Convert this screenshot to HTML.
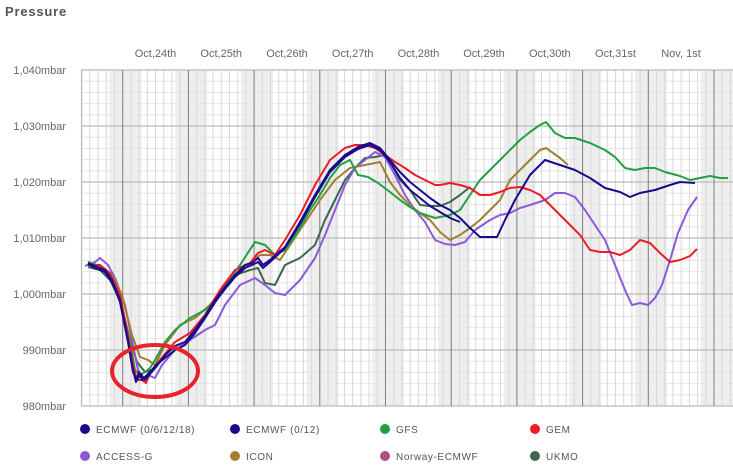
<!DOCTYPE html>
<html><head><meta charset="utf-8"><style>
body{margin:0;background:#fff;width:733px;height:466px;overflow:hidden;font-family:"Liberation Sans",sans-serif}
</style></head><body>
<svg width="733" height="466" xmlns="http://www.w3.org/2000/svg" font-family="Liberation Sans, sans-serif">
<text x="5" y="16" font-size="13" font-weight="bold" fill="#555" letter-spacing="0.8">Pressure</text>
<g id="bands" fill="#eeeeee">
<rect x="109.5" y="70" width="32" height="336"/><rect x="175.2" y="70" width="32" height="336"/><rect x="240.9" y="70" width="32" height="336"/><rect x="306.6" y="70" width="32" height="336"/><rect x="372.3" y="70" width="32" height="336"/><rect x="438" y="70" width="32" height="336"/><rect x="503.7" y="70" width="32" height="336"/><rect x="569.4" y="70" width="32" height="336"/><rect x="635.1" y="70" width="32" height="336"/><rect x="700.8" y="70" width="32" height="336"/>
</g>
<g stroke="#e6e6e6" stroke-width="1" id="hmin"></g>
<g stroke="#d8d8d8" stroke-width="1" id="vmin"></g>
<g stroke="#bbbbbb" stroke-width="1.2">
<line x1="81" y1="70" x2="733" y2="70"/><line x1="81" y1="126" x2="733" y2="126"/><line x1="81" y1="182" x2="733" y2="182"/><line x1="81" y1="238" x2="733" y2="238"/><line x1="81" y1="294" x2="733" y2="294"/><line x1="81" y1="350" x2="733" y2="350"/><line x1="81" y1="406" x2="733" y2="406"/>
<line x1="81.5" y1="70" x2="81.5" y2="406"/>
</g>
<g stroke="#808080" stroke-width="1" id="days"></g>
<g font-size="11" fill="#666" text-anchor="end">
<text x="66" y="74">1,040mbar</text><text x="66" y="130">1,030mbar</text><text x="66" y="186">1,020mbar</text><text x="66" y="242">1,010mbar</text><text x="66" y="298">1,000mbar</text><text x="66" y="354">990mbar</text><text x="66" y="410">980mbar</text>
</g>
<g font-size="11" fill="#666" text-anchor="middle">
<text x="155.5" y="57">Oct,24th</text><text x="221.2" y="57">Oct,25th</text><text x="287" y="57">Oct,26th</text><text x="352.7" y="57">Oct,27th</text><text x="418.4" y="57">Oct,28th</text><text x="484" y="57">Oct,29th</text><text x="549.8" y="57">Oct,30th</text><text x="615.5" y="57">Oct,31st</text><text x="681" y="57">Nov, 1st</text>
</g>
<g fill="none" stroke-width="2" stroke-linejoin="round">
<polyline stroke="#3d6650" points="88,267 100,270 110,280 120,300 130,340 137,362 145,372 152,370 162,360 175,350 190,340 205,318 220,295 235,275 250,270 258,268 265,283 275,285 285,265 300,258 315,245 325,220 335,200 345,180 355,168 365,158 375,157 385,155 392,165 400,180 410,190 420,205 430,206 440,206 450,202 460,195 470,187"/>
<polyline stroke="#8a5ad8" points="85,266 95,262 100,258 108,265 115,278 125,305 133,345 138,370 143,378 148,375 155,378 162,365 175,350 190,340 205,330 215,325 225,305 240,285 255,278 265,285 275,293 285,295 300,280 315,258 325,235 335,210 345,185 355,168 365,160 375,152 385,157 395,175 405,195 415,210 425,222 435,240 445,244 455,245 465,242 475,230 490,220 500,215 510,213 520,208 530,205 545,200 555,193 565,193 575,197 585,210 595,225 605,240 615,265 625,290 632,305 640,303 648,305 655,298 662,285 670,260 678,233 688,210 697,197"/>
<polyline stroke="#a08030" points="88,265 100,265 112,275 122,295 132,335 140,357 148,360 155,365 165,345 180,325 195,318 210,305 225,285 240,270 250,263 260,255 270,255 280,260 300,230 320,200 335,180 350,168 365,165 380,162 390,182 400,195 410,205 420,213 430,220 440,232 450,240 460,235 470,228 480,220 490,210 500,200 510,180 520,170 530,160 540,150 546,148 560,158 568,165"/>
<polyline stroke="#22a044" points="88,262 100,266 110,275 120,300 130,340 135,370 140,375 145,372 150,368 155,360 165,342 175,330 190,318 205,310 215,300 225,285 240,265 255,242 265,245 275,255 285,250 300,228 310,210 320,195 330,178 340,165 350,160 358,175 368,177 378,183 390,192 400,200 410,207 420,213 435,218 450,215 460,210 470,195 480,180 490,170 500,160 510,150 520,140 530,132 540,125 546,122 555,133 565,138 575,138 590,143 605,150 615,157 625,168 635,170 645,168 655,168 665,172 680,176 690,180 700,178 710,176 720,178 728,178"/>
<polyline stroke="#ee1c24" points="88,265 100,265 110,273 120,295 128,335 133,365 137,380 142,380 146,383 150,373 160,360 175,342 190,333 205,315 220,290 235,270 250,263 258,253 265,250 275,255 285,240 300,215 315,185 330,160 345,148 355,145 365,145 375,148 385,155 395,162 405,168 415,175 425,180 435,185 440,185 450,183 460,185 470,188 480,195 490,195 500,192 510,188 520,187 530,190 540,195 550,205 560,215 570,225 580,235 590,250 600,252 610,252 620,255 630,250 640,240 650,243 660,253 670,262 680,260 690,256 697,249"/>
<polyline stroke="#1a0a8c" points="88,263 95,266 105,270 112,280 120,300 128,340 133,370 136,382 139,372 142,380 146,376 150,372 156,365 165,358 175,350 185,345 195,333 205,318 215,302 225,289 235,277 245,268 252,265 258,262 263,268 270,262 285,248 300,224 315,197 330,172 345,157 358,149 370,145 380,150 390,162 400,178 410,190 420,198 430,206 440,212 450,218 460,222"/>
<polyline stroke="#1a0a8c" points="88,264 95,268 105,272 112,282 120,302 128,342 133,372 137,380 141,374 145,380 150,374 156,367 165,355 175,346 185,342 195,330 205,316 215,300 225,287 235,275 245,265 252,263 258,258 263,265 270,260 285,247 300,222 315,195 330,170 345,155 358,147 370,143 380,148 390,160 400,172 410,182 420,190 430,198 440,205 450,210 460,218 470,228 480,237 490,237 497,237 505,220 515,200 530,175 545,160 560,165 575,170 590,178 605,188 620,192 630,197 640,193 655,190 670,185 680,182 695,183"/>
</g>
<ellipse cx="155" cy="371" rx="43" ry="26" fill="none" stroke="#e8232a" stroke-width="4"/>
<g font-size="10" fill="#555" letter-spacing="0.6">
<circle cx="85" cy="429" r="5" fill="#1a0a8c"/><text x="96" y="433">ECMWF (0/6/12/18)</text>
<circle cx="235" cy="429" r="5" fill="#1a0a8c"/><text x="246" y="433">ECMWF (0/12)</text>
<circle cx="385" cy="429" r="5" fill="#22a044"/><text x="396" y="433">GFS</text>
<circle cx="535" cy="429" r="5" fill="#ee1c24"/><text x="546" y="433">GEM</text>
<circle cx="85" cy="456" r="5" fill="#8a5ad8"/><text x="96" y="460">ACCESS-G</text>
<circle cx="235" cy="456" r="5" fill="#a08030"/><text x="246" y="460">ICON</text>
<circle cx="385" cy="456" r="5" fill="#b05080"/><text x="396" y="460">Norway-ECMWF</text>
<circle cx="535" cy="456" r="5" fill="#3d6650"/><text x="546" y="460">UKMO</text>
</g>
<script>
var ns="http://www.w3.org/2000/svg";
var h=document.getElementById("hmin");
for(var y=70;y<=406;y+=11.2){var l=document.createElementNS(ns,"line");l.setAttribute("x1",81);l.setAttribute("x2",733);l.setAttribute("y1",y);l.setAttribute("y2",y);h.appendChild(l);}
var v=document.getElementById("vmin");
for(var x=122.7-8.21*5;x<=733;x+=8.2125){if(x<81)continue;var l=document.createElementNS(ns,"line");l.setAttribute("x1",x);l.setAttribute("x2",x);l.setAttribute("y1",70);l.setAttribute("y2",406);v.appendChild(l);}
var d=document.getElementById("days");
for(var k=0;k<10;k++){var x=122.7+65.7*k;var l=document.createElementNS(ns,"line");l.setAttribute("x1",x);l.setAttribute("x2",x);l.setAttribute("y1",70);l.setAttribute("y2",406);d.appendChild(l);}
</script>
</svg>
</body></html>
